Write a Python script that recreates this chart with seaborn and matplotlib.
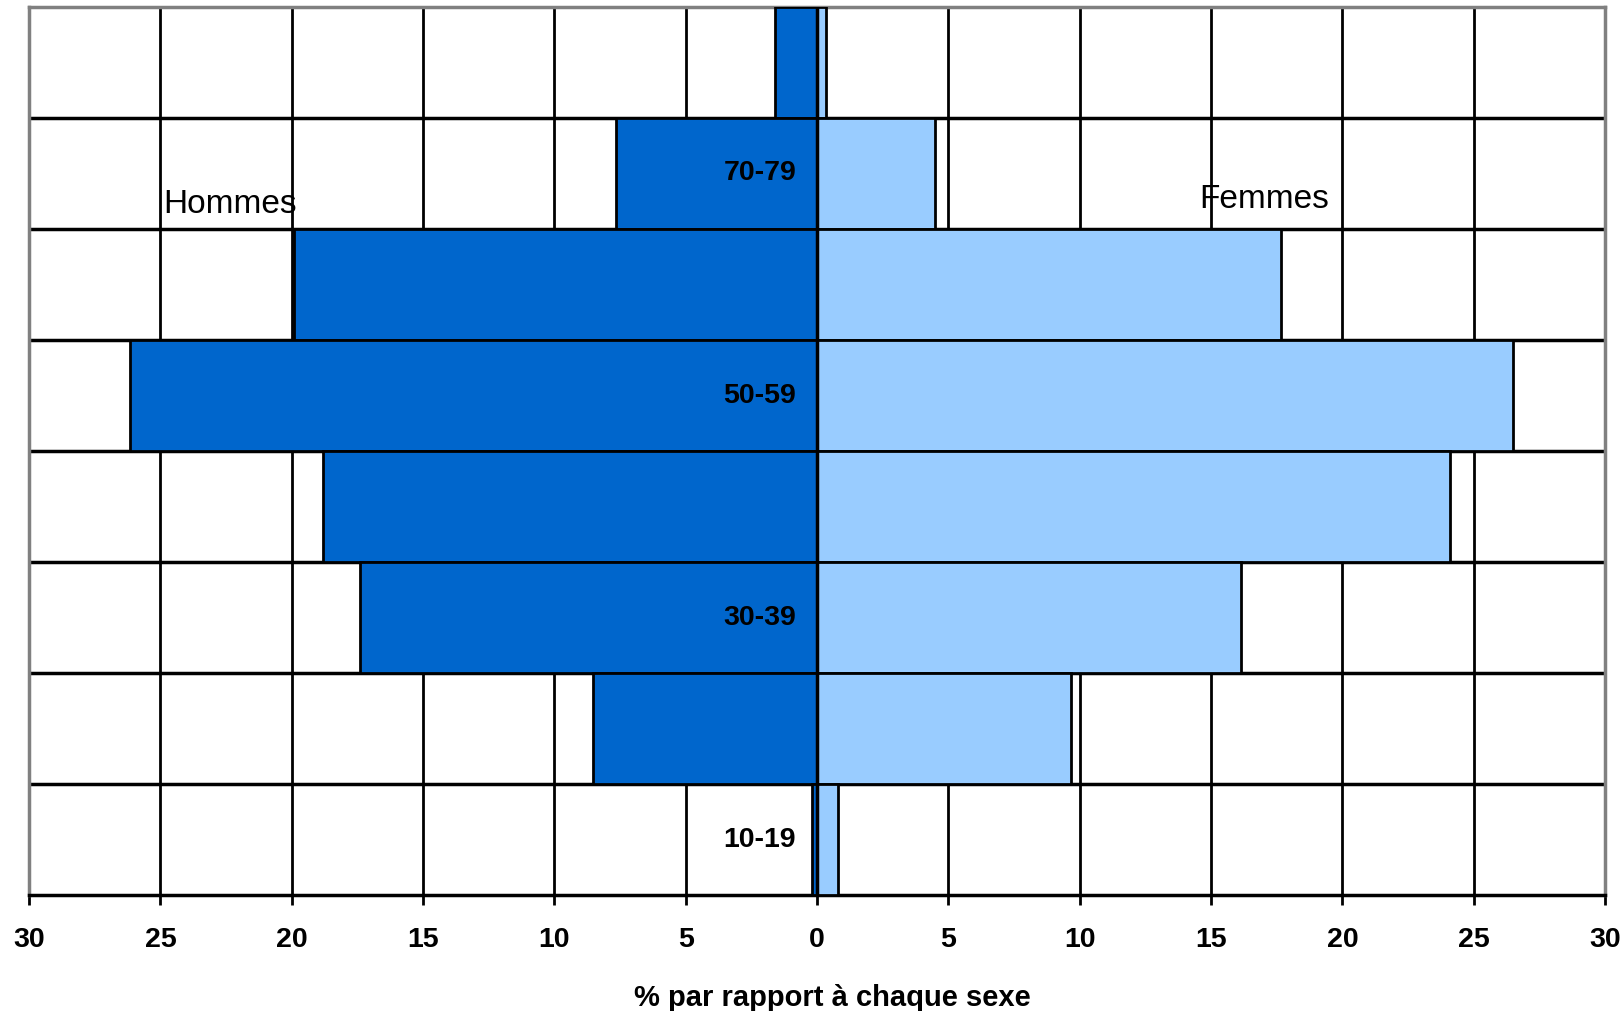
import matplotlib
matplotlib.use("Agg")
import matplotlib.pyplot as plt
import seaborn as sns
import numpy as np
import pandas as pd
from matplotlib.ticker import FuncFormatter

# age groups, top to bottom
ages = ["80-89", "70-79", "60-69", "50-59", "40-49", "30-39", "20-29", "10-19"]
hommes = [1.6, 7.65, 19.9, 26.15, 18.8, 17.4, 8.55, 0.2]
femmes = [0.33, 4.5, 17.65, 26.5, 24.1, 16.15, 9.65, 0.8]
labelled_ages = ["70-79", "50-59", "30-39", "10-19"]
x_ticks = [-30, -25, -20, -15, -10, -5, 0, 5, 10, 15, 20, 25, 30]

df = pd.DataFrame({
    "age": ages * 2,
    "sexe": ["Hommes"] * len(ages) + ["Femmes"] * len(ages),
    "valeur": [-v for v in hommes] + femmes,
})

sns.set_style("white")
plt.rcParams["font.family"] = ["Liberation Sans", "DejaVu Sans"]
plt.rcParams["text.color"] = "black"
plt.rcParams["xtick.color"] = "black"
plt.rcParams["axes.labelcolor"] = "black"

fig = plt.figure(figsize=(16.23, 10.11), dpi=100)
ax = fig.add_axes([0.0179, 0.1147, 0.9711, 0.8784])

sns.barplot(data=df, x="valeur", y="age", hue="sexe", order=ages,
            hue_order=["Hommes", "Femmes"], dodge=False, width=1.0,
            palette={"Hommes": "#0066CC", "Femmes": "#99CCFF"},
            saturation=1, edgecolor="black", linewidth=2, legend=False,
            ax=ax, zorder=3)

ax.set_xlim(-30, 30)
ax.set_ylim(len(ages) - 0.5, -0.5)

# grid
for x in x_ticks[1:-1]:
    ax.axvline(x, color="black", lw=2, zorder=1)
for y in np.arange(0.5, len(ages) - 0.5, 1):
    ax.axhline(y, color="black", lw=2.5, zorder=1)
ax.axvline(0, color="black", lw=2.5, zorder=4)

ax.set_yticks([])
ax.set_ylabel("")
ax.set_xticks(x_ticks)
ax.xaxis.set_major_formatter(FuncFormatter(lambda v, p: f"{abs(int(v))}"))
ax.tick_params(axis="x", bottom=True, length=7, width=2, pad=16,
               labelsize=20.5, color="black")
for lab in ax.get_xticklabels():
    lab.set_fontweight("bold")
ax.set_xlabel("% par rapport à chaque sexe", fontsize=21, fontweight="bold")
ax.xaxis.set_label_coords(0.51, -0.1)

for side in ["left", "right", "top"]:
    ax.spines[side].set_color("#808080")
    ax.spines[side].set_linewidth(2.5)
ax.spines["bottom"].set_color("black")
ax.spines["bottom"].set_linewidth(2.5)

for a in labelled_ages:
    ax.text(-0.8, ages.index(a), a, ha="right", va="center",
            fontsize=20.5, fontweight="bold", zorder=5)

ax.text(-24.9, 1.28, "Hommes", fontsize=24, ha="left", va="center", zorder=5)
ax.text(14.55, 1.23, "Femmes", fontsize=24, ha="left", va="center", zorder=5)

fig.savefig("out.png", dpi=100)
